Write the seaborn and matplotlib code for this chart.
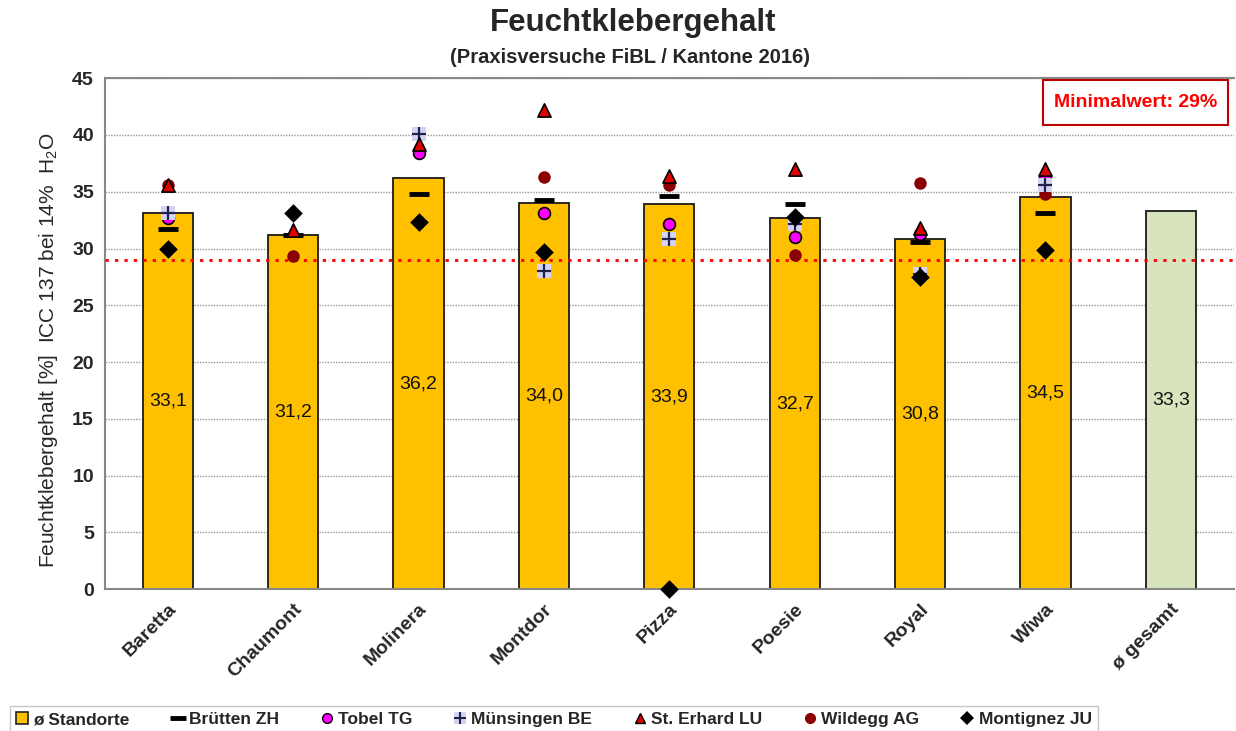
import numpy as np
import pandas as pd
import matplotlib
matplotlib.use("Agg")
import matplotlib.pyplot as plt
from matplotlib.lines import Line2D
from matplotlib.patches import Rectangle, Patch
import seaborn as sns

# data
sorten = ["Baretta", "Chaumont", "Molinera", "Montdor", "Pizza", "Poesie", "Royal", "Wiwa", "ø gesamt"]
mittel = [33.1, 31.2, 36.2, 34.0, 33.9, 32.7, 30.8, 34.5, 33.3]

bruetten = [31.7, 31.2, 34.8, 34.3, 34.6, 33.9, 30.6, 33.1, np.nan]
tobel = [32.7, np.nan, 38.4, 33.1, 32.2, 31.0, 31.3, 36.3, np.nan]
muensingen = [33.1, np.nan, 40.1, 28.0, 30.8, 32.2, 27.8, 35.6, np.nan]
erhard = [35.6, 31.6, 39.2, 42.2, 36.4, 37.0, 31.8, 37.0, np.nan]
wildegg = [35.6, 29.3, np.nan, 36.3, 35.6, 29.4, 35.8, 34.8, np.nan]
montignez = [30.0, 33.1, 32.3, 29.7, 0.0, 32.8, 27.5, 29.9, np.nan]

minimalwert = 29

sns.set_style("white")
plt.rcParams['font.family'] = ['Liberation Sans', 'DejaVu Sans']
plt.rcParams['mathtext.fontset'] = 'custom'
plt.rcParams['mathtext.rm'] = 'Liberation Sans'

df = pd.DataFrame({"Sorte": sorten, "Mittel": mittel})
bar_colors = ["#FFC000"] * (len(sorten) - 1) + ["#D7E4BD"]

fig = plt.figure(figsize=(12.36, 7.31), dpi=100)
ax = fig.add_axes([0.085, 0.194, 0.913, 0.699])

sns.barplot(data=df, x="Sorte", y="Mittel", hue="Sorte", palette=bar_colors,
            order=sorten, legend=False, width=0.4, edgecolor="#1a1a1a",
            linewidth=1.3, saturation=1, ax=ax, zorder=2)

for cont, v in zip(ax.containers, mittel):
    ax.bar_label(cont, labels=[f"{v:.1f}".replace(".", ",")], label_type="center",
                 fontsize=14, color="#111111")

# einzelne Standorte
def punkte(werte, **kw):
    d = pd.DataFrame({"Sorte": sorten, "Wert": werte})
    sns.stripplot(data=d, x="Sorte", y="Wert", order=sorten, jitter=False,
                  ax=ax, zorder=5, clip_on=False, **kw)

punkte(bruetten, marker="_", s=14, linewidth=3.5, color="black")
punkte(wildegg, marker="o", s=9, color="#8B0000", linewidth=0)
punkte(tobel, marker="o", s=8.5, color="#FF00FF", linewidth=1.2, edgecolor="black")
punkte(muensingen, marker="s", s=9.5, color="#D4D4F2", linewidth=0)
punkte(muensingen, marker="+", s=9.5, color="#1F2050", linewidth=1.6)
punkte(erhard, marker="^", s=9.5, color="#E00000", linewidth=1.2, edgecolor="black")
punkte(montignez, marker="D", s=9.5, color="black", linewidth=0)

ax.axhline(minimalwert, color="#FF0000", linestyle=(0, (1.2, 2.2)), linewidth=2, zorder=4)

ax.set_ylim(0, 45)
ax.set_xlim(-0.5, len(sorten) - 0.5)
ax.set_yticks(range(0, 46, 5))
ax.yaxis.grid(True, color="#999999", linestyle=(0, (1, 1)), linewidth=1, zorder=0)
ax.set_axisbelow(True)
ax.set_xlabel("")
ax.set_ylabel("Feuchtklebergehalt [%]  ICC 137 bei 14%  H$_2$O", fontsize=15)
ax.yaxis.set_label_coords(-0.040, 0.468)

for s in ["left", "bottom", "top"]:
    ax.spines[s].set_color("#888888")
    ax.spines[s].set_linewidth(1.5)
ax.spines["right"].set_visible(False)

ax.tick_params(axis="y", length=5, color="#888888", labelsize=14, width=1, pad=3)
for lab in ax.get_yticklabels():
    lab.set_fontweight("bold")
ax.set_xticks(np.arange(len(sorten)) + 0.5, minor=True)
ax.tick_params(axis="x", which="minor", length=5, color="#888888", width=1)
ax.tick_params(axis="x", which="major", length=0, pad=8)
ax.set_xticks(range(len(sorten)))
ax.set_xticklabels(sorten, rotation=45, ha="right", rotation_mode="anchor",
                   fontsize=14, fontweight="bold")

# Minimalwert-Box
ax.add_patch(Rectangle((0.831, 0.908), 0.164, 0.088, transform=ax.transAxes,
                       facecolor="white", edgecolor="#C00000", linewidth=1.5, zorder=6))
ax.text(0.913, 0.952, "Minimalwert: 29%", transform=ax.transAxes, ha="center",
        va="center", color="#FF0000", fontsize=14, fontweight="bold", zorder=7)

fig.text(0.512, 0.968, "Feuchtklebergehalt", ha="center", va="center",
         fontsize=22.5, fontweight="bold")
fig.text(0.51, 0.922, "(Praxisversuche FiBL / Kantone 2016)", ha="center",
         va="center", fontsize=14.5, fontweight="bold")

handles = [
    Patch(facecolor="#FFC000", edgecolor="#222222", linewidth=1.2),
    Line2D([], [], marker="_", color="black", markersize=12, mew=3.5, linestyle=""),
    Line2D([], [], marker="o", color="#FF00FF", markeredgecolor="black", markersize=7, linestyle=""),
    (Line2D([], [], marker="s", color="#D4D4F2", markersize=8, mew=0, linestyle=""),
     Line2D([], [], marker="+", color="#1F2050", markersize=8, mew=1.5, linestyle="")),
    Line2D([], [], marker="^", color="#E00000", markeredgecolor="black", markersize=7, linestyle=""),
    Line2D([], [], marker="o", color="#8B0000", markersize=8, mew=0, linestyle=""),
    Line2D([], [], marker="D", color="black", markersize=7, mew=0, linestyle=""),
]
labels = ["ø Standorte", "Brütten ZH", "Tobel TG", "Münsingen BE",
          "St. Erhard LU", "Wildegg AG", "Montignez JU"]
leg = fig.legend(handles, labels, ncol=7, loc="upper left",
                 bbox_to_anchor=(10 / 1236, 1 - 706 / 731), frameon=True,
                 fancybox=False, edgecolor="#BBBBBB", handlelength=0.7,
                 handletextpad=0.3, columnspacing=2.4, borderpad=0.35,
                 borderaxespad=0, prop={"size": 12.5, "weight": "bold"})

fig.savefig("out.png", dpi=100, facecolor="white")
